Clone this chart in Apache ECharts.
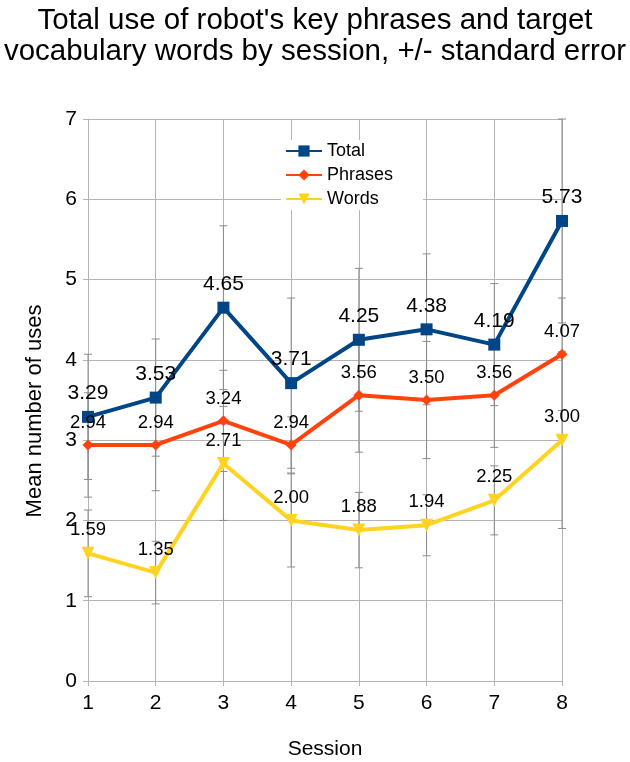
<!DOCTYPE html>
<html>
<head>
<meta charset="utf-8">
<script src="https://cdn.jsdelivr.net/npm/echarts@6/dist/echarts.min.js"></script>
<style>html,body{margin:0;padding:0;background:#fff}#c{width:630px;height:762px}</style>
</head>
<body>
<div id="c"></div>
<script>
const sessions = ['1','2','3','4','5','6','7','8'];
const totalVals   = [3.29, 3.53, 4.65, 3.71, 4.25, 4.38, 4.19, 5.73];
const phraseVals  = [2.94, 2.94, 3.24, 2.94, 3.56, 3.50, 3.56, 4.07];
const wordVals    = [1.59, 1.35, 2.71, 2.00, 1.88, 1.94, 2.25, 3.00];
const totalSE  = [0.78, 0.73, 1.02, 1.06, 0.89, 0.94, 0.76, 1.27];
const phraseSE = [0.65, 0.57, 0.63, 0.35, 0.71, 0.73, 0.65, 0.70];
const wordSE   = [0.54, 0.39, 0.71, 0.58, 0.47, 0.38, 0.43, 1.10];
const yTicks = [0,1,2,3,4,5,6,7];

const FONT = '"Liberation Sans", Arial, sans-serif';

function errData(vals, se){
  return vals.map((v,i)=>[i, v - se[i], v + se[i]]);
}
function errSeries(vals, se){
  return {
    type:'custom',
    silent:true,
    z:1,
    data: errData(vals, se),
    encode:{x:0, y:[1,2]},
    renderItem:function(params, api){
      const x = api.value(0);
      const lo = api.coord([x, api.value(1)]);
      const hi = api.coord([x, api.value(2)]);
      const top = params.coordSys.y;
      const hy = Math.max(hi[1], top);
      const w = 4;
      const style = {stroke:'#8c8c8c', lineWidth:1};
      const children = [
        {type:'line', shape:{x1:lo[0], y1:lo[1], x2:lo[0], y2:hy}, style:style},
        {type:'line', shape:{x1:lo[0]-w, y1:lo[1], x2:lo[0]+w, y2:lo[1]}, style:style},
        {type:'line', shape:{x1:hi[0]-w, y1:hy, x2:hi[0]+w, y2:hy}, style:style}
      ];
      return {type:'group', children:children};
    }
  };
}

function lineSeries(name, vals, color, symbol, size, labelSize, rot){
  return {
    name:name, type:'line', data:vals, z:3,
    symbol:symbol, symbolSize:size, symbolRotate:rot || 0,
    lineStyle:{color:color, width:4},
    itemStyle:{color:color},
    label:{show:true, position:'top', distance:7, color:'#000',
      fontFamily:FONT, fontSize:labelSize,
      formatter:p=>p.value.toFixed(2)}
  };
}

const chart = echarts.init(document.getElementById('c'), null, {renderer:'canvas'});
chart.setOption({
  backgroundColor:'#fff',
  animation:false,
  title:{
    text:"Total use of robot's key phrases and target\nvocabulary words by session, +/- standard error",
    left:'center', top:0,
    textStyle:{fontFamily:FONT, fontSize:29.5, fontWeight:'normal', color:'#000', lineHeight:31}
  },
  legend:{
    orient:'vertical', left:281, top:140,
    itemWidth:36, itemHeight:14, itemGap:6,
    backgroundColor:'#fff',
    padding:[2,30,2,4],
    textStyle:{fontFamily:FONT, fontSize:18, color:'#000'},
    data:['Total','Phrases','Words']
  },
  grid:{left:88, right:68, top:119, bottom:81, outerBoundsMode:'none', containLabel:false},
  xAxis:{
    type:'category', data:sessions, boundaryGap:false,
    name:'Session', nameLocation:'middle', nameGap:58,
    nameTextStyle:{fontFamily:FONT, fontSize:21, color:'#000'},
    axisLine:{lineStyle:{color:'#b3b3b3'}},
    axisTick:{show:true, length:5, lineStyle:{color:'#b3b3b3'}},
    axisLabel:{fontFamily:FONT, fontSize:21, color:'#000', margin:12},
    splitLine:{show:true, lineStyle:{color:'#b3b3b3', width:1}}
  },
  yAxis:{
    type:'value', min:0, max:7, interval:1,
    name:'Mean number of uses', nameLocation:'middle', nameGap:42,
    nameTextStyle:{fontFamily:FONT, fontSize:22, color:'#000', padding:[0,22,0,0]},
    axisLine:{show:true, lineStyle:{color:'#b3b3b3'}},
    axisTick:{show:true, length:5, lineStyle:{color:'#b3b3b3'}},
    axisLabel:{fontFamily:FONT, fontSize:21, color:'#000', margin:11,
      formatter:v=>String(yTicks[yTicks.indexOf(v)] ?? v)},
    splitLine:{show:true, lineStyle:{color:'#b3b3b3', width:1}}
  },
  series:[
    errSeries(totalVals, totalSE),
    errSeries(phraseVals, phraseSE),
    errSeries(wordVals, wordSE),
    lineSeries('Total', totalVals, '#004586', 'rect', 12, 21, 0),
    lineSeries('Phrases', phraseVals, '#ff420e', 'diamond', 11, 18.5, 0),
    lineSeries('Words', wordVals, '#ffd320', 'triangle', 13, 18.5, 180)
  ]
});
</script>
</body>
</html>
